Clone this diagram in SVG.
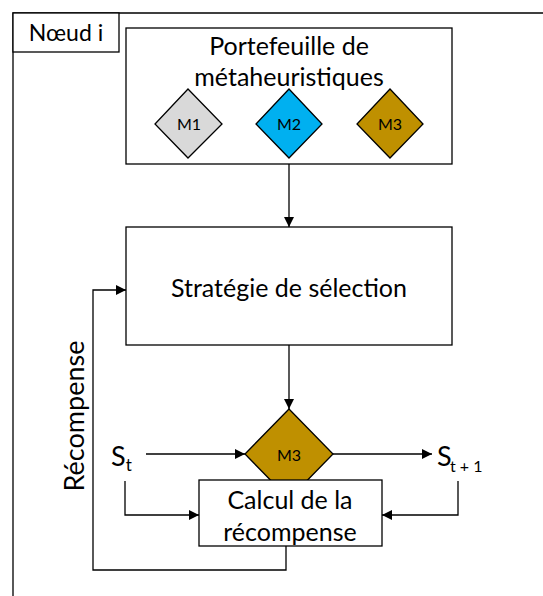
<svg xmlns="http://www.w3.org/2000/svg" width="543" height="596" viewBox="0 0 543 596">
<style>
.b{fill:#fff;stroke:#000;stroke-width:1.3}
.l{fill:none;stroke:#000;stroke-width:1.3}
.d{stroke:#000;stroke-width:1.3}
text{font-family:Lato,"Liberation Sans",sans-serif;fill:#000}
.t{font-size:25px;text-anchor:middle}
.m{font-size:16px;text-anchor:middle}
</style>
<defs>
<marker id="a" markerWidth="10" markerHeight="10" refX="10" refY="5" orient="auto" markerUnits="userSpaceOnUse">
<path d="M0,0 L10,5 L0,10 z" fill="#000"/>
</marker>
</defs>
<g id="frame">
<path class="l" d="M13,596 V13 H543"/>
<rect class="b" x="13" y="13" width="106" height="39"/>
<text x="66" y="41" font-size="23" text-anchor="middle">Nœud i</text>
</g>
<g id="portefeuille">
<rect class="b" x="126" y="28" width="326" height="136"/>
<text class="t" x="289" y="55">Portefeuille de</text>
<text class="t" x="289" y="86">métaheuristiques</text>
</g>
<g id="m1"><path class="d" fill="#d9d9d9" d="M188,89 L222,124 L188,158 L155,124 z"/><text class="m" x="189" y="130">M1</text></g>
<g id="m2"><path class="d" fill="#00b0f0" d="M289,89 L322,124 L289,158 L256,124 z"/><text class="m" x="289" y="130">M2</text></g>
<g id="m3"><path class="d" fill="#bf9000" d="M390,89 L423,124 L390,158 L357,124 z"/><text class="m" x="390" y="130">M3</text></g>
<g id="strategie">
<rect class="b" x="126" y="227" width="326" height="118"/>
<text class="t" x="289" y="297">Stratégie de sélection</text>
</g>
<g id="m3b"><path class="d" fill="#bf9000" d="M289,409 L333,454 L289,499 L245,454 z"/><text class="m" x="289" y="461">M3</text></g>
<g id="st"><text x="111" y="466" font-size="27">S<tspan font-size="17" dy="5">t</tspan></text></g>
<g id="st1"><text x="437" y="466" font-size="27">S</text><text x="450" y="472" font-size="16">t + 1</text></g>
<g id="calcul">
<rect class="b" x="199" y="480" width="183" height="66"/>
<text class="t" x="290" y="509">Calcul de la</text>
<text class="t" x="290" y="541">récompense</text>
</g>
<g id="connectors">
<path class="l" d="M289,164 V227" marker-end="url(#a)"/>
<path class="l" d="M289,345 V409" marker-end="url(#a)"/>
<path class="l" d="M146,454 H245" marker-end="url(#a)"/>
<path class="l" d="M333,454 H432" marker-end="url(#a)"/>
<path class="l" d="M125,481 V515 H199" marker-end="url(#a)"/>
<path class="l" d="M458,481 V515 H382" marker-end="url(#a)"/>
<path class="l" d="M286,546 V570 H93 V290 H126" marker-end="url(#a)"/>
</g>
<g id="recompense-label">
<text class="t" font-size="27" transform="translate(84,416) rotate(-90)" style="font-size:27px">Récompense</text>
</g>
</svg>
